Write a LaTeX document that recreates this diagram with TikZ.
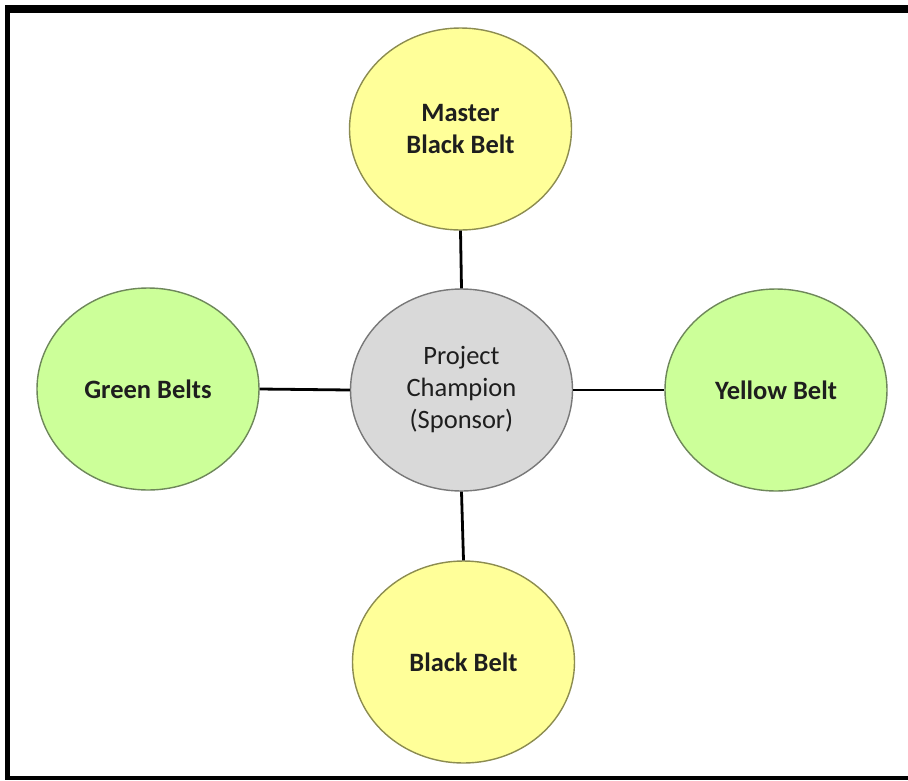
\documentclass[tikz,border=0pt]{standalone}
\usepackage{fontspec}
\setmainfont{Carlito}
\usetikzlibrary{shapes.geometric}
\definecolor{yfill}{RGB}{255,255,153}
\definecolor{yline}{RGB}{140,140,80}
\definecolor{gfill}{RGB}{204,255,153}
\definecolor{gline}{RGB}{110,135,90}
\definecolor{cfill}{RGB}{217,217,217}
\definecolor{cline}{RGB}{120,120,120}
\definecolor{txt}{RGB}{30,30,30}
\tikzset{
  belt/.style={ellipse, minimum width=222pt, minimum height=202pt, line width=1.4pt,
    inner sep=0pt, align=center, text=txt, font=\fontsize{26.5}{32}\selectfont\bfseries},
  ybelt/.style={belt, draw=yline, fill=yfill},
  gbelt/.style={belt, draw=gline, fill=gfill},
  champ/.style={belt, draw=cline, fill=cfill, font=\fontsize{26.5}{32}\selectfont},
  conn/.style={line width=2.8pt, black}
}
\begin{document}
\begin{tikzpicture}[x=1pt,y=-1pt]
\useasboundingbox (0,0) rectangle (908,780);
\fill[white] (0,0) rectangle (908,780);
% frame (right side lies outside the picture)
\fill[black] (5,5) rectangle (908,13);
\fill[black] (5,5) rectangle (10,780);
\fill[black] (5,776) rectangle (908,780);
% nodes
\node[champ] (champ) at (461.5,390) {Project\\Champion\\(Sponsor)};
\node[ybelt] (mbb) at (460.5,129) {Master\\Black Belt};
\node[ybelt] (bb) at (463.5,662) {Black Belt};
\node[gbelt] (gb) at (148,389) {Green Belts};
\node[gbelt] (yb) at (776,390) {Yellow Belt};
% connectors
\draw[conn] (champ.north) -- (mbb.south);
\draw[conn] (champ.south) -- (bb.north);
\draw[conn] (champ.west) -- (gb.east);
\draw[conn] (champ.east) -- (yb.west);
\end{tikzpicture}
\end{document}
